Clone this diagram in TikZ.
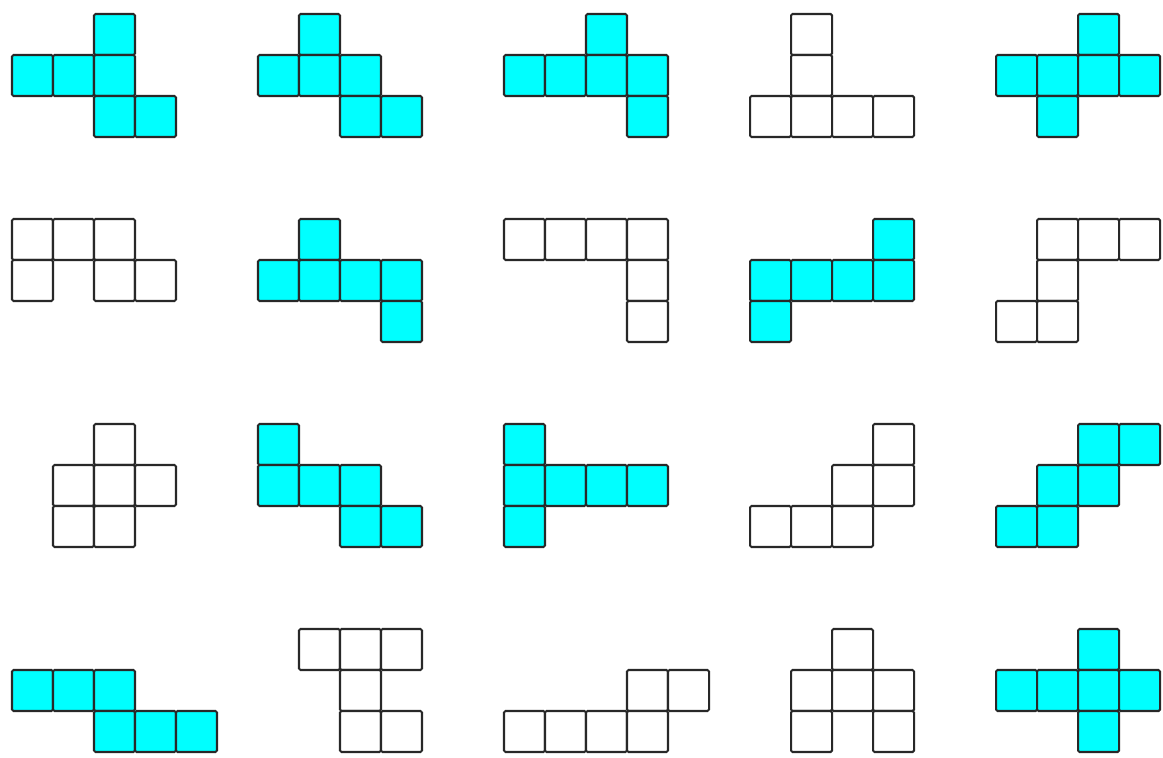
\documentclass[tikz,border=0pt]{standalone}
\usepackage{tikz}
\usepackage{xcolor}
\definecolor{piececyan}{RGB}{0,255,255}
\definecolor{pieceline}{RGB}{40,40,40}
\newcommand{\hexpiece}[4]{%
  \begin{scope}[shift={(6*#1,-5*#2)}]
    \foreach \cx/\cy in {#4} \draw[#3] (\cx,-\cy) rectangle ++(1,-1);
  \end{scope}}

\begin{document}
\begin{tikzpicture}[
    x=1cm,y=1cm,
    whitebox/.style={draw=pieceline,line width=1.4pt,rounded corners=1pt,fill=white},
    cyanbox/.style={whitebox,fill=piececyan}
]
    \useasboundingbox (-12/41,14/41) rectangle (1151/41,-744/41);
    \hexpiece{0}{0}{cyanbox}{2/0,0/1,1/1,2/1,2/2,3/2}
    \hexpiece{1}{0}{cyanbox}{1/0,0/1,1/1,2/1,2/2,3/2}
    \hexpiece{2}{0}{cyanbox}{2/0,0/1,1/1,2/1,3/1,3/2}
    \hexpiece{3}{0}{whitebox}{1/0,1/1,0/2,1/2,2/2,3/2}
    \hexpiece{4}{0}{cyanbox}{2/0,0/1,1/1,2/1,3/1,1/2}
    \hexpiece{0}{1}{whitebox}{0/0,1/0,2/0,0/1,2/1,3/1}
    \hexpiece{1}{1}{cyanbox}{1/0,0/1,1/1,2/1,3/1,3/2}
    \hexpiece{2}{1}{whitebox}{0/0,1/0,2/0,3/0,3/1,3/2}
    \hexpiece{3}{1}{cyanbox}{3/0,0/1,1/1,2/1,3/1,0/2}
    \hexpiece{4}{1}{whitebox}{1/0,2/0,3/0,1/1,0/2,1/2}
    \hexpiece{0}{2}{whitebox}{2/0,1/1,2/1,3/1,1/2,2/2}
    \hexpiece{1}{2}{cyanbox}{0/0,0/1,1/1,2/1,2/2,3/2}
    \hexpiece{2}{2}{cyanbox}{0/0,0/1,1/1,2/1,3/1,0/2}
    \hexpiece{3}{2}{whitebox}{3/0,2/1,3/1,0/2,1/2,2/2}
    \hexpiece{4}{2}{cyanbox}{2/0,3/0,1/1,2/1,0/2,1/2}
    \hexpiece{0}{3}{cyanbox}{0/1,1/1,2/1,2/2,3/2,4/2}
    \hexpiece{1}{3}{whitebox}{1/0,2/0,3/0,2/1,2/2,3/2}
    \hexpiece{2}{3}{whitebox}{3/1,4/1,0/2,1/2,2/2,3/2}
    \hexpiece{3}{3}{whitebox}{2/0,1/1,2/1,3/1,1/2,3/2}
    \hexpiece{4}{3}{cyanbox}{2/0,0/1,1/1,2/1,3/1,2/2}
\end{tikzpicture}
\end{document}
